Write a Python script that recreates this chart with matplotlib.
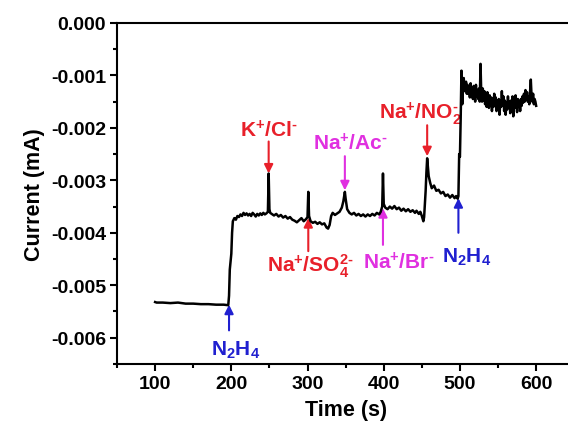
import matplotlib.pyplot as plt
from matplotlib.ticker import MultipleLocator, FormatStrFormatter

plt.rcParams['font.family'] = ['Liberation Sans', 'DejaVu Sans']
plt.rcParams['font.weight'] = 'bold'
plt.rcParams['mathtext.fontset'] = 'custom'
plt.rcParams['mathtext.rm'] = 'Liberation Sans:bold'
plt.rcParams['mathtext.it'] = 'Liberation Sans:bold'
plt.rcParams['mathtext.bf'] = 'Liberation Sans:bold'
plt.rcParams['axes.unicode_minus'] = False

# Dados (tempo em s, corrente em mA)
# Parte 1: de 100 s até 508 s
tempo_1 = [100, 102, 110, 120, 130, 140, 150, 160, 170, 180, 190, 196,
           197, 198, 199, 200, 201, 202, 204, 206, 208, 210, 212, 214, 216, 218,
           220, 222, 224, 226, 228, 230, 232, 234, 236, 238, 240, 242, 244, 246,
           248, 249, 250, 251, 253, 256, 259, 262, 265, 268, 271, 274, 277, 280,
           283, 286, 289, 292, 295, 298, 300, 301, 302, 304, 307, 310, 313, 316,
           319, 322, 325, 327, 329, 331, 333, 336, 339, 342, 345, 347, 349, 350,
           352, 355, 358, 361, 364, 367, 370, 373, 376, 379, 382, 385, 388, 391,
           394, 396, 398, 399, 400, 402, 405, 408, 411, 414, 417, 420, 423, 426,
           429, 432, 435, 438, 441, 443, 446, 448, 450, 452, 453, 454, 455, 456,
           457, 458, 459, 461, 463, 466, 469, 472, 475, 478, 481, 484, 487, 490,
           493, 495, 497, 498, 499, 500, 501, 502, 503, 504, 505, 506, 507, 508]

corrente_1 = [-0.00532, -0.00533, -0.00533, -0.00534, -0.00533, -0.00535, -0.00535,
              -0.00536, -0.00536, -0.00537, -0.00537, -0.00538,
              -0.00520, -0.00470, -0.00455, -0.00440, -0.00400, -0.00378, -0.00372,
              -0.00375, -0.00368, -0.00370, -0.00365, -0.00368, -0.00362, -0.00366,
              -0.00363, -0.00367, -0.00364, -0.00368, -0.00362, -0.00365, -0.00369,
              -0.00364, -0.00367, -0.00363, -0.00366, -0.00362, -0.00365, -0.00363,
              -0.00360, -0.00287, -0.00355, -0.00362, -0.00364, -0.00367, -0.00364,
              -0.00369, -0.00366, -0.00371, -0.00368, -0.00373, -0.00370, -0.00375,
              -0.00377, -0.00380, -0.00376, -0.00372, -0.00378, -0.00374, -0.00370,
              -0.00322, -0.00368, -0.00378, -0.00381, -0.00379, -0.00383, -0.00380,
              -0.00384, -0.00382, -0.00390, -0.00392, -0.00385, -0.00368, -0.00362,
              -0.00366, -0.00363, -0.00360, -0.00352, -0.00340, -0.00322, -0.00335,
              -0.00355, -0.00362, -0.00365, -0.00362, -0.00367, -0.00364, -0.00368,
              -0.00365, -0.00369, -0.00365, -0.00368, -0.00364, -0.00367, -0.00362,
              -0.00365, -0.00360, -0.00350, -0.00287, -0.00345, -0.00352, -0.00355,
              -0.00350, -0.00354, -0.00349, -0.00355, -0.00352, -0.00358, -0.00354,
              -0.00359, -0.00355, -0.00360, -0.00357, -0.00362, -0.00358, -0.00364,
              -0.00360, -0.00368, -0.00378, -0.00370, -0.00345, -0.00320, -0.00285,
              -0.00258, -0.00275, -0.00292, -0.00305, -0.00315, -0.00310, -0.00320,
              -0.00318, -0.00325, -0.00322, -0.00330, -0.00327, -0.00333, -0.00328,
              -0.00334, -0.00330, -0.00335, -0.00330, -0.00250, -0.00255, -0.00180,
              -0.00091, -0.00155, -0.00120, -0.00105, -0.00130, -0.00125, -0.00112]

# Parte 2: patamar final, de 509 s até 600 s
tempo_2 = [509, 510, 511, 512, 513, 514, 515, 516, 517, 518,
           519, 520, 521, 522, 523, 524, 525, 526, 527, 528,
           529, 530, 531, 532, 533, 534, 535, 536, 537, 538,
           539, 540, 541, 542, 543, 544, 545, 546, 547, 548,
           549, 550, 551, 552, 553, 554, 555, 556, 557, 558,
           559, 560, 561, 562, 563, 564, 565, 566, 567, 568,
           569, 570, 571, 572, 573, 574, 575, 576, 577, 578,
           579, 580, 581, 582, 583, 584, 585, 586, 587, 588,
           589, 590, 591, 592, 593, 594, 595, 596, 597, 598,
           599, 600]

corrente_2 = [-0.00135, -0.00118, -0.00135, -0.00122, -0.00142, -0.00115, -0.00140, -0.00125, -0.00145, -0.00120,
              -0.00132, -0.00150, -0.00118, -0.00140, -0.00128, -0.00145, -0.00125, -0.00150, -0.00078, -0.00135,
              -0.00150, -0.00125, -0.00148, -0.00130, -0.00155, -0.00135, -0.00160, -0.00132, -0.00150, -0.00162,
              -0.00138, -0.00158, -0.00142, -0.00168, -0.00145, -0.00160, -0.00135, -0.00155, -0.00142, -0.00168,
              -0.00150, -0.00160, -0.00145, -0.00175, -0.00148, -0.00160, -0.00130, -0.00158, -0.00140, -0.00168,
              -0.00148, -0.00175, -0.00152, -0.00165, -0.00140, -0.00160, -0.00150, -0.00172, -0.00148, -0.00165,
              -0.00140, -0.00178, -0.00150, -0.00162, -0.00138, -0.00155, -0.00170, -0.00145, -0.00160, -0.00150,
              -0.00168, -0.00145, -0.00158, -0.00140, -0.00152, -0.00135, -0.00150, -0.00128, -0.00145, -0.00132,
              -0.00150, -0.00140, -0.00155, -0.00130, -0.00108, -0.00140, -0.00150, -0.00135, -0.00155, -0.00145,
              -0.00150, -0.00158]

tempo = tempo_1 + tempo_2
corrente = corrente_1 + corrente_2

# Anotações: (texto, cor, x da seta, ponta, cauda, x do texto, y do texto)
vermelho = '#e8202a'
magenta = '#e030e0'
azul = '#2020d0'
anotacoes = [
    ('N$_2$H$_4$', azul, 197, -0.00537, -0.00586, 206, -0.00622),
    ('K$^{+}$/Cl$^{‐}$', vermelho, 249, -0.00287, -0.00226, 249, -0.00203),
    ('Na$^{+}$/SO$_4^{2‐}$', vermelho, 301, -0.00372, -0.00435, 303, -0.00462),
    ('Na$^{+}$/Ac$^{‐}$', magenta, 349, -0.00319, -0.00254, 356, -0.00228),
    ('Na$^{+}$/Br$^{‐}$', magenta, 399, -0.00353, -0.00423, 420, -0.00455),
    ('Na$^{+}$/NO$_2^{‐}$', vermelho, 457, -0.00254, -0.00195, 448, -0.00170),
    ('N$_2$H$_4$', azul, 498, -0.00334, -0.00400, 509, -0.00445),
]

fig = plt.figure(figsize=(5.68, 4.35), dpi=100)
ax = fig.add_axes([0.206, 0.161, 0.805, 0.784])

# Curva
ax.plot(tempo, corrente, color='black', linewidth=1.8, zorder=3)

for texto, cor, xs, yp, yc, xt, yt in anotacoes:
    ax.annotate('', xy=(xs, yp), xytext=(xs, yc),
                arrowprops=dict(arrowstyle='-|>', color=cor, lw=1.5,
                                mutation_scale=13, shrinkA=0, shrinkB=0),
                zorder=2)
    ax.text(xt, yt, texto, color=cor, fontsize=15, ha='center', va='center',
            zorder=1)

# Eixos
ax.set_xlim(50, 650)
ax.set_ylim(-0.0065, 0.0)
ax.xaxis.set_major_locator(MultipleLocator(100))
ax.xaxis.set_minor_locator(MultipleLocator(50))
ax.yaxis.set_major_locator(MultipleLocator(0.001))
ax.yaxis.set_minor_locator(MultipleLocator(0.0005))
ax.yaxis.set_major_formatter(FormatStrFormatter('%.3f'))
ax.tick_params(which='major', direction='out', length=5, width=1.5,
               labelsize=14, pad=3)
ax.tick_params(which='minor', direction='out', length=3, width=1.5)
for lado in ax.spines.values():
    lado.set_linewidth(1.5)

ax.set_xlabel('Time (s)', fontsize=15.5, fontweight='bold', labelpad=5)
ax.set_ylabel('Current (mA)', fontsize=15.5, fontweight='bold', labelpad=4)

plt.savefig('out.png', dpi=100)
